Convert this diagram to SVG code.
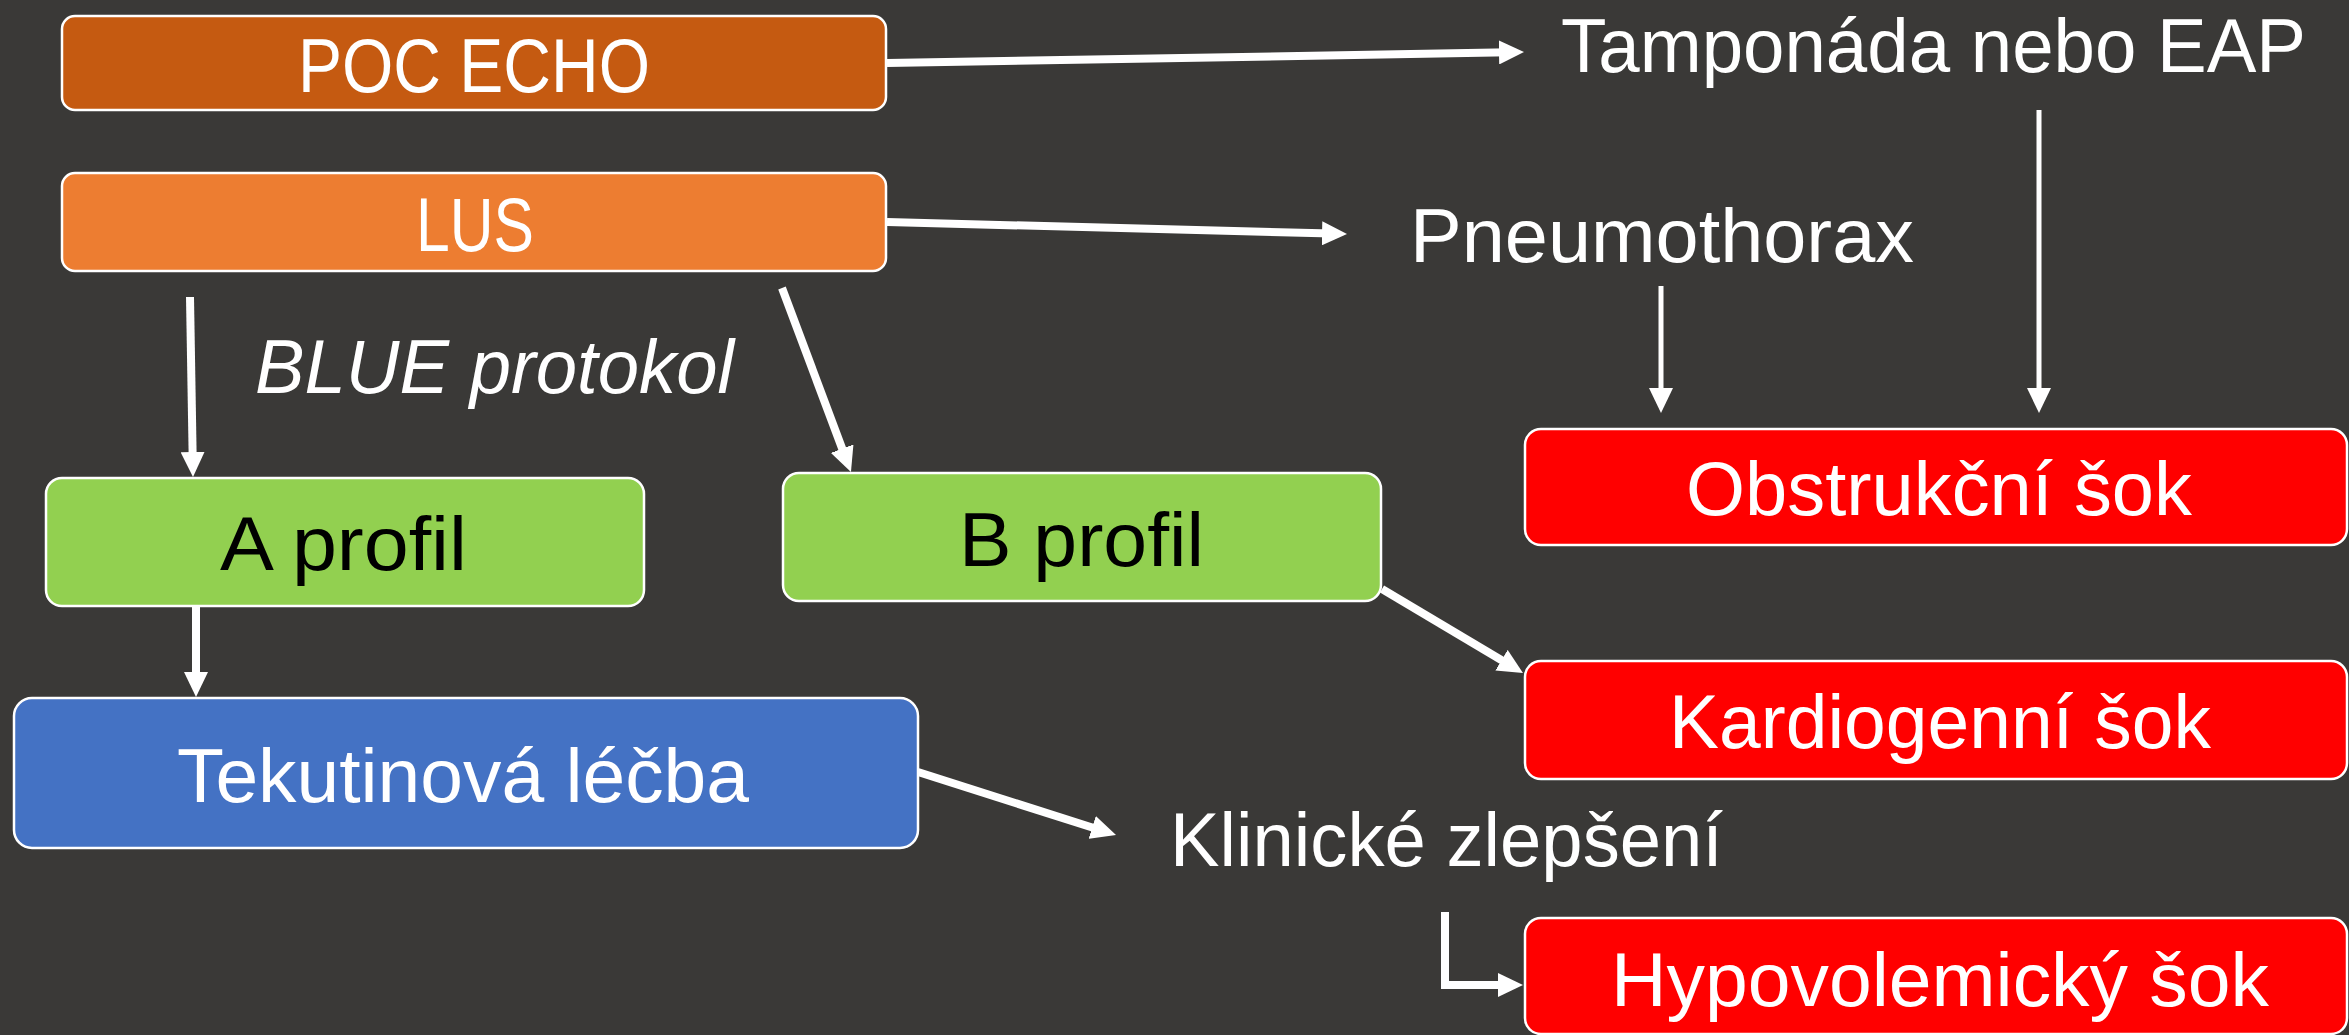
<svg xmlns="http://www.w3.org/2000/svg" width="2349" height="1035" viewBox="0 0 2349 1035">
<style>
.box{stroke:#ffffff;stroke-width:2.5}
.t{font-family:"Liberation Sans",Arial,sans-serif;font-size:76px;fill:#ffffff}
.dark{fill:#000000}
.it{font-style:italic}
.c{fill:none;stroke:#ffffff;stroke-width:8}
.thin{stroke-width:5}
</style>
<defs>
<marker id="ah" markerUnits="userSpaceOnUse" markerWidth="25" markerHeight="24" viewBox="0 0 25 24" refX="10" refY="12" orient="auto">
<path d="M0,0 L25,12 L0,24 z" fill="#ffffff"/>
</marker>
</defs>
<rect width="2349" height="1035" fill="#3a3937"/>

<g id="connectors">
<line class="c" x1="887" y1="63" x2="1509" y2="52.3" marker-end="url(#ah)"/>
<line class="c" x1="887" y1="222" x2="1332" y2="233.6" marker-end="url(#ah)"/>
<line class="c thin" x1="2039" y1="110" x2="2039" y2="398" marker-end="url(#ah)"/>
<line class="c thin" x1="1661" y1="286" x2="1661" y2="398" marker-end="url(#ah)"/>
<line class="c" x1="190" y1="297" x2="192.75" y2="462" marker-end="url(#ah)"/>
<line class="c" x1="782" y1="288" x2="845.7" y2="458" marker-end="url(#ah)"/>
<line class="c" x1="196" y1="606" x2="196" y2="682" marker-end="url(#ah)"/>
<line class="c" x1="1382" y1="589" x2="1510.1" y2="665.3" marker-end="url(#ah)"/>
<line class="c" x1="918" y1="772" x2="1101.7" y2="830.5" marker-end="url(#ah)"/>
<path class="c" d="M1445,912 V985 H1508" marker-end="url(#ah)"/>
</g>

<g id="poc-echo">
<rect class="box" x="62" y="16" width="824" height="94" rx="13" fill="#c55a11"/>
<text class="t" x="298" y="92" textLength="352" lengthAdjust="spacingAndGlyphs">POC ECHO</text>
</g>
<g id="lus">
<rect class="box" x="62" y="173" width="824" height="98" rx="13" fill="#ed7d31"/>
<text class="t" x="416" y="251" textLength="118" lengthAdjust="spacingAndGlyphs">LUS</text>
</g>
<g id="tamponada">
<text class="t" x="1561" y="72" textLength="745" lengthAdjust="spacingAndGlyphs">Tamponáda nebo EAP</text>
</g>
<g id="pneumothorax">
<text class="t" x="1410" y="262" textLength="504" lengthAdjust="spacingAndGlyphs">Pneumothorax</text>
</g>
<g id="blue-protokol">
<text class="t it" x="255" y="393" font-size="72" textLength="479" lengthAdjust="spacingAndGlyphs">BLUE protokol</text>
</g>
<g id="a-profil">
<rect class="box" x="46" y="478" width="598" height="128" rx="16" fill="#92d050"/>
<text class="t dark" x="220" y="570" textLength="247" lengthAdjust="spacingAndGlyphs">A profil</text>
</g>
<g id="b-profil">
<rect class="box" x="783" y="473" width="598" height="128" rx="16" fill="#92d050"/>
<text class="t dark" x="959" y="566" textLength="245" lengthAdjust="spacingAndGlyphs">B profil</text>
</g>
<g id="tekutinova-lecba">
<rect class="box" x="14" y="698" width="904" height="150" rx="18" fill="#4472c4"/>
<text class="t" x="177" y="802" textLength="572" lengthAdjust="spacingAndGlyphs">Tekutinová léčba</text>
</g>
<g id="obstrukcni-sok">
<rect class="box" x="1525" y="429" width="822" height="116" rx="16" fill="#ff0000"/>
<text class="t" x="1686" y="515" textLength="506" lengthAdjust="spacingAndGlyphs">Obstrukční šok</text>
</g>
<g id="kardiogenni-sok">
<rect class="box" x="1525" y="661" width="822" height="118" rx="16" fill="#ff0000"/>
<text class="t" x="1669" y="748" textLength="542" lengthAdjust="spacingAndGlyphs">Kardiogenní šok</text>
</g>
<g id="klinicke-zlepseni">
<text class="t" x="1170" y="866" textLength="553" lengthAdjust="spacingAndGlyphs">Klinické zlepšení</text>
</g>
<g id="hypovolemicky-sok">
<rect class="box" x="1525" y="918" width="822" height="116" rx="16" fill="#ff0000"/>
<text class="t" x="1611" y="1006" textLength="658" lengthAdjust="spacingAndGlyphs">Hypovolemický šok</text>
</g>
</svg>
